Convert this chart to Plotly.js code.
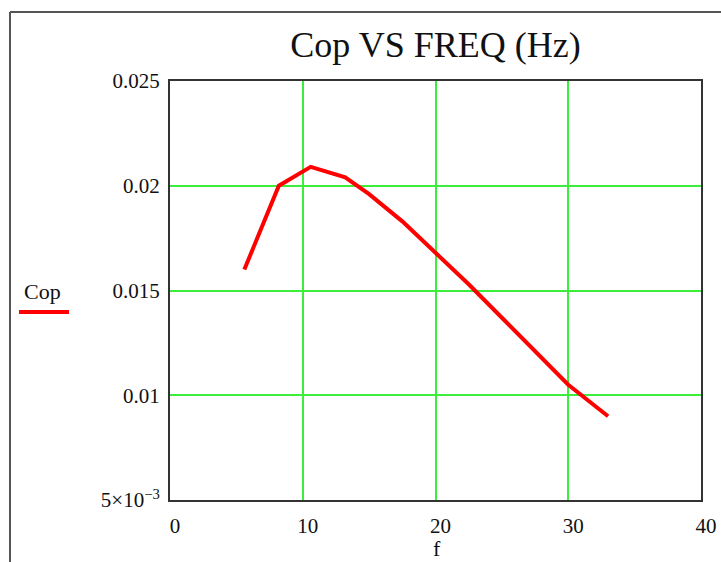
<!DOCTYPE html>
<html>
<head>
<meta charset="utf-8">
<script src="https://cdn.plot.ly/plotly-3.0.1.min.js"></script>
<style>
  html, body { margin: 0; padding: 0; background: #ffffff; }
  #chart { width: 721px; height: 562px; }
</style>
</head>
<body>
<div id="chart"></div>
<script>
// Coefficient of performance against supply frequency
const freq = [5.6, 8.2, 10.6, 13.2, 15, 17.5, 20, 22.5, 25, 27.5, 30, 33];
const cop  = [0.0160, 0.0200, 0.0209, 0.0204, 0.0196, 0.0183, 0.0168, 0.0153, 0.0137, 0.0121, 0.0105, 0.0090];

const xTicks = [0, 10, 20, 30, 40];
const yTicks = [0.005, 0.01, 0.015, 0.02, 0.025];
const yTickText = ['5×10<sup>−3</sup>', '0.01', '0.015', '0.02', '0.025'];

const serif = 'Liberation Serif, Times New Roman, serif';
const W = 721, H = 562, L = 170, R = 20, T = 81, B = 62;
const pw = W - L - R, ph = H - T - B;
// pixel -> paper helpers for the surrounding frame, legend key and axis name
const px = v => (v - L) / pw;
const py = v => (H - B - v) / ph;

const trace = {
  x: freq, y: cop, type: 'scatter', mode: 'lines',
  line: { color: '#ff0000', width: 4 },
  showlegend: false, hoverinfo: 'x+y'
};

const layout = {
  width: W, height: H,
  margin: { l: L, r: R, t: T, b: B },
  paper_bgcolor: '#ffffff', plot_bgcolor: '#ffffff',
  font: { family: serif, color: '#111111', size: 20 },
  title: {
    text: 'Cop VS FREQ (Hz)',
    font: { family: serif, size: 36, color: '#111111' },
    x: 0.5, xref: 'paper', y: 1 - 44 / H, yref: 'container', yanchor: 'middle'
  },
  xaxis: {
    range: [0, 40], tickvals: xTicks, ticks: '',
    showgrid: true, gridcolor: '#3cee3c', gridwidth: 2,
    showline: true, mirror: true, linecolor: '#333333', linewidth: 2,
    zeroline: false, ticklabelshift: 5, ticklabelstandoff: 6,
    tickfont: { family: serif, size: 21, color: '#111111' }
  },
  yaxis: {
    range: [0.005, 0.025], tickvals: yTicks, ticktext: yTickText, ticks: '',
    showgrid: true, gridcolor: '#3cee3c', gridwidth: 2,
    showline: true, mirror: true, linecolor: '#333333', linewidth: 2,
    zeroline: false, ticklabelstandoff: 4,
    tickfont: { family: serif, size: 21, color: '#111111' }
  },
  shapes: [
    // outer region frame (left and top edges)
    { type: 'line', xref: 'paper', yref: 'paper', x0: px(10), x1: px(10), y0: py(12), y1: py(H + 2),
      line: { color: '#555555', width: 2 } },
    { type: 'line', xref: 'paper', yref: 'paper', x0: px(10), x1: px(W + 2), y0: py(12), y1: py(12),
      line: { color: '#555555', width: 2 } },
    // legend key
    { type: 'line', xref: 'paper', yref: 'paper', x0: px(19), x1: px(69), y0: py(312), y1: py(312),
      line: { color: '#ff0000', width: 4 } }
  ],
  annotations: [
    { text: 'Cop', xref: 'paper', yref: 'paper', x: px(42), y: py(291),
      xanchor: 'center', yanchor: 'middle', showarrow: false,
      font: { family: serif, size: 22, color: '#111111' } },
    // x axis name
    { text: 'f', xref: 'paper', yref: 'paper', x: px(437), y: py(548),
      xanchor: 'center', yanchor: 'middle', showarrow: false,
      font: { family: serif, size: 22, color: '#111111' } }
  ]
};

Plotly.newPlot('chart', [trace], layout, { displayModeBar: false, staticPlot: true });
</script>
</body>
</html>
